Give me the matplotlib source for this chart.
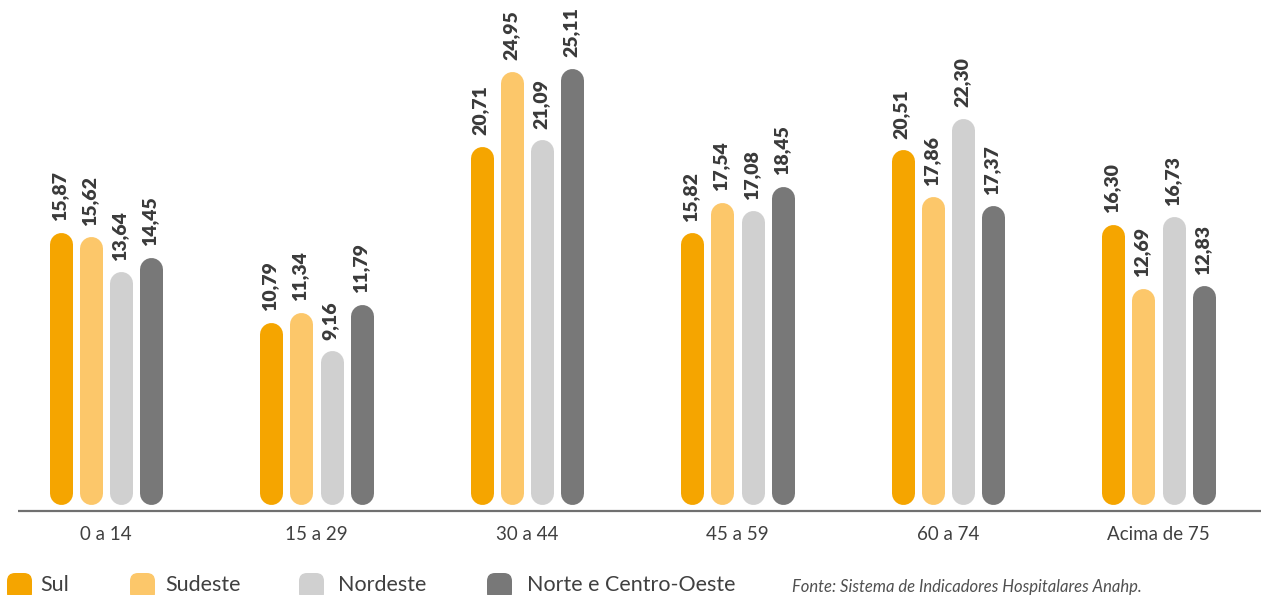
import matplotlib
matplotlib.use("Agg")
import matplotlib.pyplot as plt
from matplotlib.patches import FancyBboxPatch
from matplotlib.transforms import IdentityTransform
import numpy as np

# data
faixas = ["0 a 14", "15 a 29", "30 a 44", "45 a 59", "60 a 74", "Acima de 75"]
regioes = ["Sul", "Sudeste", "Nordeste", "Norte e Centro-Oeste"]
sul = [15.87, 10.79, 20.71, 15.82, 20.51, 16.30]
sudeste = [15.62, 11.34, 24.95, 17.54, 17.86, 12.69]
nordeste = [13.64, 9.16, 21.09, 17.08, 22.30, 16.73]
norte_co = [14.45, 11.79, 25.11, 18.45, 17.37, 12.83]
fonte = "Fonte: Sistema de Indicadores Hospitalares Anahp."

series = [sul, sudeste, nordeste, norte_co]
cores = ["#F5A500", "#FCC76A", "#D0D0D0", "#787878"]

W, H = 1261, 595
fig = plt.figure(figsize=(W / 100, H / 100), dpi=100)
ax = fig.add_axes([0, 0, 1, 1])

# pixel -> data helpers (layout only)
X0, XS = 106.0, 210.5
Y0, YS = 513.3, 17.72
def px_x(p):
    return (p - X0) / XS
def px_y(p):
    return (Y0 - p) / YS

ax.set_xlim(px_x(0), px_x(W))
ax.set_ylim(px_y(H), px_y(0))
ax.axis("off")

bar_w = 23  # px
lw = bar_w * 72 / 100
cap = (bar_w / 2) / YS
offsets = np.array([-1.5, -0.5, 0.5, 1.5]) * 30.2 / XS
bottom = px_y(504) + cap

x = np.arange(len(faixas))
for s, vals in enumerate(series):
    for i, v in enumerate(vals):
        xi = x[i] + offsets[s]
        ax.plot([xi, xi], [bottom, v - cap], color=cores[s], lw=lw,
                solid_capstyle="round", zorder=2)
        ax.text(xi - 0.006, v + 11 / YS, f"{v:.2f}".replace(".", ","),
                rotation=90, ha="center", va="bottom", fontsize=14,
                fontweight="heavy", color="#3a3a3a", family="Lato")

# axis line
ax.plot([px_x(18), px_x(W)], [px_y(511), px_y(511)], color="#707070",
        lw=1.6, solid_capstyle="butt", zorder=1)

for i, f in enumerate(faixas):
    ax.text(x[i], px_y(534), f, ha="center", va="center", fontsize=13.5,
            color="#404040", family="Lato")

# legend (pixel positions, rounded squares clipped by the bottom edge)
leg_x = [7, 130, 299, 487]
txt_x = [40, 165, 338, 527]
for s, nome in enumerate(regioes):
    box = FancyBboxPatch((leg_x[s], -6), 25, H - 573 + 6,
                         boxstyle="round,pad=0,rounding_size=8",
                         transform=IdentityTransform(), facecolor=cores[s],
                         edgecolor="none")
    fig.add_artist(box)
    ax.text(px_x(txt_x[s]), px_y(585), nome, ha="left", va="center",
            fontsize=15.5, color="#404040", family="Lato")

ax.text(px_x(792), px_y(587), fonte, ha="left", va="center", fontsize=12,
        style="italic", color="#505050", family="Lato")

fig.savefig("out.png", dpi=100)
